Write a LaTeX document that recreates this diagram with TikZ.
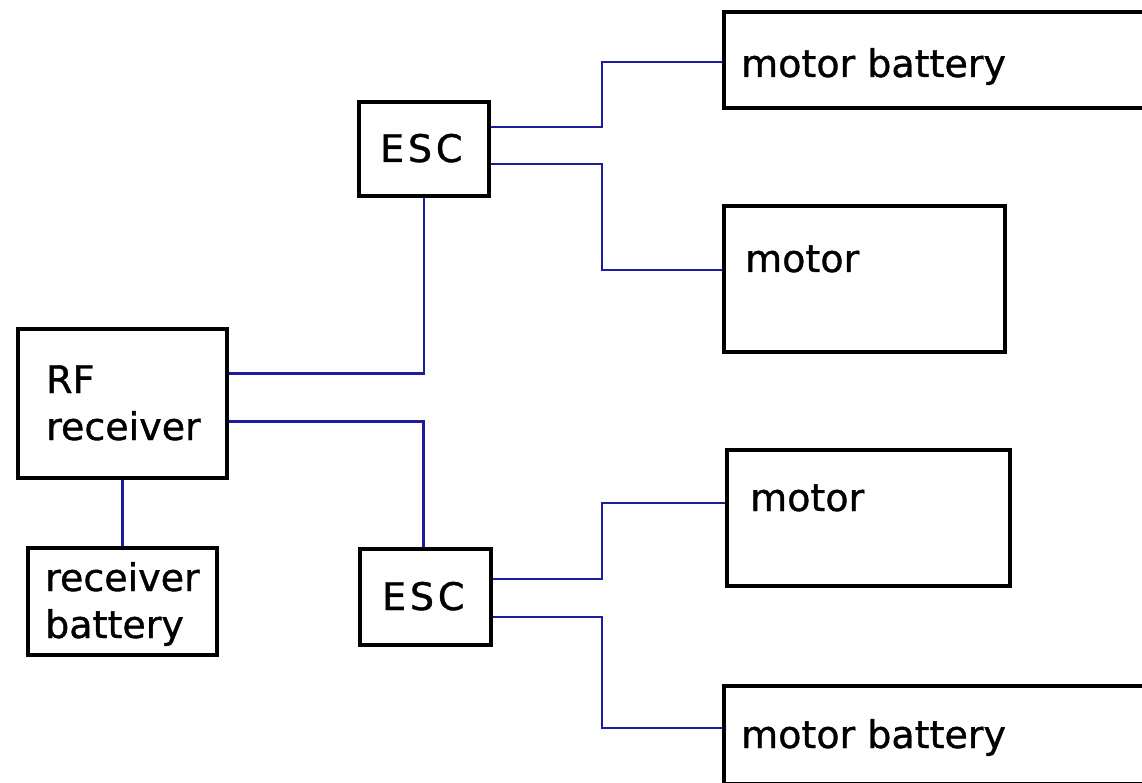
\documentclass[tikz,border=0pt]{standalone}
\usepackage{fontspec}
\setmainfont[FakeBold=1]{DejaVu Sans}
\usepackage{xcolor}
\definecolor{cLine}{HTML}{000000}
\definecolor{cWire}{HTML}{1C1C9C}
\usepackage{tikz}
\usetikzlibrary{positioning,calc}
\tikzset{
  node-box/.style={draw=cLine,line width=4.5pt,inner sep=0pt},
  node-text/.style={inner sep=0pt,align=left,
    font=\fontsize{38}{47}\selectfont},
  node-esc/.style={node-text,
    font=\fontsize{38}{47}\selectfont\addfontfeatures{LetterSpace=10}},
  wire/.style={draw=cWire,line width=2.4pt},
}

\begin{document}
\begin{tikzpicture}[x=1pt,y=-1pt]
  \useasboundingbox (0,0) rectangle (1142,783);
  \clip (0,0) rectangle (1142,783);
  % boxes
  \node[node-box,minimum width=436pt,minimum height=96pt]  (mbat1)  at (942,60)     {};
  \node[node-box,minimum width=130pt,minimum height=94pt]  (esc1)   at (424,149)    {};
  \node[node-box,minimum width=281pt,minimum height=146pt] (motor1) at (864.5,279)  {};
  \node[node-box,minimum width=209pt,minimum height=149pt] (rf)     at (122.5,403.5) {};
  \node[node-box,minimum width=189pt,minimum height=107pt] (recbat) at (122.5,601.5) {};
  \node[node-box,minimum width=131pt,minimum height=96pt]  (esc2)   at (425.5,597)  {};
  \node[node-box,minimum width=283pt,minimum height=136pt] (motor2) at (868.5,518)  {};
  \node[node-box,minimum width=436pt,minimum height=98pt]  (mbat2)  at (942,735)    {};
  % texts (multi-line ones sit on their last line)
  \node[node-text,anchor=base west] (mbat1-txt)  at (741,77)  {motor battery};
  \node[node-esc,anchor=base west]  (esc1-txt)   at (380,162) {ESC};
  \node[node-text,anchor=base west] (motor1-txt) at (745,272) {motor};
  \node[node-text,anchor=base west] (rf-txt)     at (46,440)  {RF\\receiver};
  \node[node-text,anchor=base west] (recbat-txt) at (45,638)  {receiver\\battery};
  \node[node-esc,anchor=base west]  (esc2-txt)   at (382,610) {ESC};
  \node[node-text,anchor=base west] (motor2-txt) at (750,511) {motor};
  \node[node-text,anchor=base west] (mbat2-txt)  at (741,748) {motor battery};
  % wiring
  \draw[wire] ([yshift=22pt]esc1.east)  -- ++(111,0) |- ([yshift=-2pt]mbat1.west);
  \draw[wire] ([yshift=-15pt]esc1.east) -- ++(111,0) |- ([yshift=9pt]motor1.west);
  \draw[wire] ([yshift=30pt]rf.east)  -| (esc1.south);
  \draw[wire] ([yshift=-18pt]rf.east) -| ([xshift=-2pt]esc2.north);
  \draw[wire] (rf.south) -- (recbat.north);
  \draw[wire] ([yshift=18pt]esc2.east)  -- ++(109,0) |- ([yshift=15pt]motor2.west);
  \draw[wire] ([yshift=-20pt]esc2.east) -- ++(109,0) |- ([yshift=7pt]mbat2.west);
\end{tikzpicture}
\end{document}
